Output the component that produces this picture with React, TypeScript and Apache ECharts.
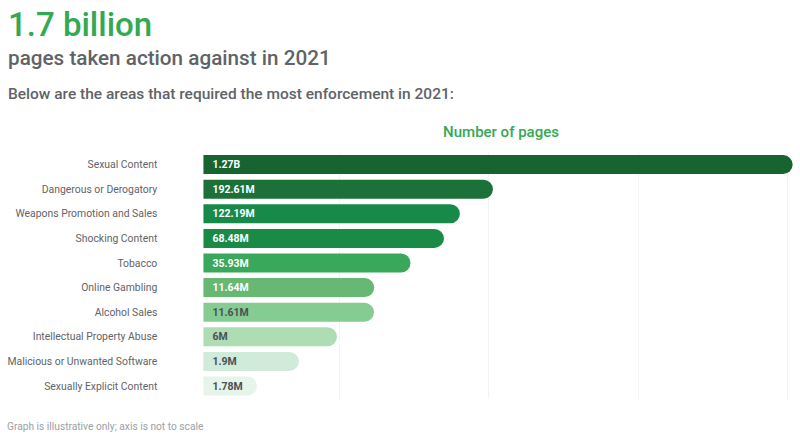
import React, { useEffect, useRef } from "react";
import * as echarts from "echarts";

const categories = [
  "Sexual Content",
  "Dangerous or Derogatory",
  "Weapons Promotion and Sales",
  "Shocking Content",
  "Tobacco",
  "Online Gambling",
  "Alcohol Sales",
  "Intellectual Property Abuse",
  "Malicious or Unwanted Software",
  "Sexually Explicit Content",
];

// Printed values (the graph is illustrative; bar length is not to scale)
const valueLabels = ["1.27B", "192.61M", "122.19M", "68.48M", "35.93M", "11.64M", "11.61M", "6M", "1.9M", "1.78M"];

// Illustrative bar lengths (axis units, one unit per gridline)
const barLengths = [3.949, 1.94, 1.719, 1.612, 1.388, 1.145, 1.143, 0.895, 0.64, 0.359];

const barColors = [
  "#176430", "#1c7138", "#178a4a", "#1a8a47", "#3aa85a",
  "#66b872", "#85cc92", "#aedcb3", "#d0ebd9", "#e6f4ea",
];
const labelColors = [
  "#ffffff", "#ffffff", "#ffffff", "#ffffff", "#ffffff",
  "#ffffff", "#4a4f55", "#4a4f55", "#4a4f55", "#4a4f55",
];

const BAR_START = 0.088;
const FONT = "Roboto, 'Noto Sans', sans-serif";

export default function App() {
  const ref = useRef<HTMLDivElement>(null);
  useEffect(() => {
    if (!ref.current) return;
    const chart = echarts.init(ref.current, undefined, { renderer: "svg" });
    chart.setOption({
      animation: false,
      backgroundColor: "#ffffff",
      textStyle: { fontFamily: FONT },
      graphic: [
        {
          type: "text", left: 8, top: 8,
          style: { text: "1.7 billion", fontSize: 33, fontWeight: 500, fill: "#34a853", fontFamily: FONT },
        },
        {
          type: "text", left: 8, top: 47,
          style: { text: "pages taken action against in 2021", fontSize: 20.7, fontWeight: 500, fill: "#5f6368", fontFamily: FONT },
        },
        {
          type: "text", left: 8, top: 86,
          style: { text: "Below are the areas that required the most enforcement in 2021:", fontSize: 15.5, fontWeight: 500, fill: "#5f6368", fontFamily: FONT },
        },
        {
          type: "text", x: 501, y: 132,
          style: { text: "Number of pages", fontSize: 15, fontWeight: 500, fill: "#34a853", align: "center", verticalAlign: "middle", fontFamily: FONT },
        },
        {
          type: "text", left: 7, top: 421,
          style: { text: "Graph is illustrative only; axis is not to scale", fontSize: 10.2, fill: "#9aa0a6", fontFamily: FONT },
        },
      ],
      grid: { left: 190.3, top: 152.3, height: 246, right: 6.9, containLabel: false },
      xAxis: {
        type: "value",
        min: 0,
        max: 4.04,
        interval: 1,
        axisLabel: { show: false },
        axisLine: { show: false },
        axisTick: { show: false },
        splitLine: { show: true, showMinLine: false, showMaxLine: false, lineStyle: { color: "#f1f3f4", width: 1 } },
      },
      yAxis: {
        type: "category",
        inverse: true,
        data: categories,
        axisLine: { show: false },
        axisTick: { show: false },
        axisLabel: { color: "#5f6368", fontSize: 10.4, margin: 33, fontFamily: FONT },
      },
      series: [
        {
          type: "bar",
          stack: "s",
          barWidth: 19,
          silent: true,
          itemStyle: { color: "transparent" },
          data: categories.map(() => BAR_START),
        },
        {
          type: "bar",
          stack: "s",
          barWidth: 19,
          data: barLengths.map((v, i) => ({
            value: v,
            itemStyle: { color: barColors[i], borderRadius: [0, 10, 10, 0] },
            label: { color: labelColors[i] },
          })),
          label: {
            show: true,
            position: "insideLeft",
            distance: 9,
            fontSize: 10.5,
            fontWeight: "bold",
            fontFamily: FONT,
            formatter: (p: any) => valueLabels[p.dataIndex],
          },
        },
      ],
    });
    return () => chart.dispose();
  }, []);
  return <div ref={ref} style={{ width: 800, height: 439, position: "fixed", left: 0, top: 0 }} />;
}
